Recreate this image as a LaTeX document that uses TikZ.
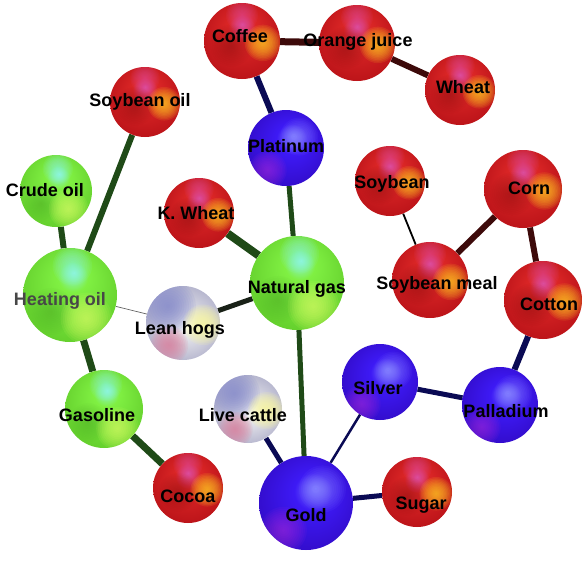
\documentclass[tikz,border=0pt]{standalone}
\usepackage{fontspec}
\setmainfont{Liberation Sans}
\usetikzlibrary{calc,backgrounds}

% sphere palettes
\definecolor{redhl}{rgb}{0.86,0.30,0.62}
\definecolor{redmid}{rgb}{0.86,0.15,0.15}
\definecolor{redrim}{rgb}{0.74,0.08,0.10}
\definecolor{redspot}{rgb}{1.00,0.78,0.12}
\definecolor{reddark}{rgb}{0.50,0.04,0.10}
\definecolor{grnhl}{rgb}{0.55,0.96,0.88}
\definecolor{grnmid}{rgb}{0.50,0.94,0.26}
\definecolor{grnrim}{rgb}{0.40,0.82,0.18}
\definecolor{grnspot}{rgb}{0.85,1.00,0.40}
\definecolor{grndark}{rgb}{0.28,0.62,0.14}
\definecolor{bluhl}{rgb}{0.50,0.50,1.00}
\definecolor{blumid}{rgb}{0.24,0.10,0.96}
\definecolor{blurim}{rgb}{0.20,0.05,0.80}
\definecolor{bluspot}{rgb}{0.55,0.52,1.00}
\definecolor{bluviolet}{rgb}{0.62,0.16,0.86}
\definecolor{silmid}{rgb}{0.90,0.90,0.92}
\definecolor{silrim}{rgb}{0.70,0.70,0.80}
\definecolor{silblue}{rgb}{0.52,0.54,0.80}
\definecolor{silyel}{rgb}{0.99,0.98,0.62}
\definecolor{silpink}{rgb}{0.86,0.50,0.62}
% connector colours
\definecolor{lnkgreen}{rgb}{0.12,0.29,0.09}
\definecolor{lnknavy}{rgb}{0.04,0.04,0.33}
\definecolor{lnkmaroon}{rgb}{0.24,0.04,0.04}
\definecolor{lnkdark}{rgb}{0.10,0.13,0.09}

\pgfdeclareradialshading{redbase}{\pgfpoint{0bp}{11bp}}{color(0bp)=(redhl); color(9bp)=(redmid); color(28bp)=(redrim); color(40bp)=(redrim)}
\pgfdeclareradialshading{grnbase}{\pgfpoint{2bp}{12bp}}{color(0bp)=(grnhl); color(8bp)=(grnmid); color(28bp)=(grnrim); color(40bp)=(grnrim)}
\pgfdeclareradialshading{blubase}{\pgfpoint{5bp}{8bp}}{color(0bp)=(bluhl); color(10bp)=(blumid); color(28bp)=(blurim); color(40bp)=(blurim)}
\pgfdeclareradialshading{silbase}{\pgfpoint{3bp}{-2bp}}{color(0bp)=(white); color(7bp)=(silmid); color(27bp)=(silrim); color(40bp)=(silrim)}

% soft coloured glow inside a sphere: colour, dx, dy, radius, opacity per layer
\newcommand\ballglow[5]{%
  \foreach \k in {1,...,12}{%
    \fill[#1, fill opacity=#5] ($(path picture bounding box.center)+(#2,#3)$) circle ({#4*\k/12});}}

\tikzset{
  sphere/.style={circle, inner sep=0pt, minimum size=2*#1},
  redball/.style={sphere=#1, shading=redbase, path picture={
      \ballglow{reddark}{-0.28*#1}{-0.12*#1}{0.55*#1}{0.04}
      \ballglow{redspot}{0.55*#1}{-0.05*#1}{0.48*#1}{0.12}
      \ballglow{redhl}{0.0*#1}{0.68*#1}{0.42*#1}{0.08}
  }},
  grnball/.style={sphere=#1, shading=grnbase, path picture={
      \ballglow{grndark}{-0.40*#1}{-0.35*#1}{0.50*#1}{0.04}
      \ballglow{grnspot}{0.35*#1}{-0.50*#1}{0.55*#1}{0.10}
      \ballglow{grnhl}{0.05*#1}{0.62*#1}{0.42*#1}{0.09}
  }},
  bluball/.style={sphere=#1, shading=blubase, path picture={
      \ballglow{bluspot}{0.35*#1}{0.30*#1}{0.50*#1}{0.07}
      \ballglow{bluviolet}{-0.48*#1}{-0.58*#1}{0.50*#1}{0.09}
  }},
  silball/.style={sphere=#1, shading=silbase, path picture={
      \ballglow{silblue}{-0.40*#1}{0.45*#1}{0.75*#1}{0.13}
      \ballglow{silyel}{0.55*#1}{-0.05*#1}{0.55*#1}{0.14}
      \ballglow{silpink}{-0.38*#1}{-0.60*#1}{0.52*#1}{0.13}
  }},
  tag/.style={font=\fontsize{18}{20}\selectfont\bfseries, text=black, inner sep=0pt, text height=12.9pt, text depth=0pt},
  link/.style={line width=#1},
  green link/.style={link=#1, draw=lnkgreen},
  navy link/.style={link=#1, draw=lnknavy},
  maroon link/.style={link=#1, draw=lnkmaroon},
}

\begin{document}
\begin{tikzpicture}[x=1pt,y=1pt]
\useasboundingbox (0,-563) rectangle (583,0);

% spheres
\node[redball=38] (coffee)    at (242,-41)  {};
\node[redball=38] (oj)        at (357,-43)  {};
\node[redball=35] (wheat)     at (460,-90)  {};
\node[redball=35] (soyoil)    at (145,-102) {};
\node[bluball=38] (platinum)  at (286,-148) {};
\node[grnball=36] (crude)     at (56,-191)  {};
\node[redball=35] (kwheat)    at (199,-213) {};
\node[redball=35] (soybean)   at (390,-181) {};
\node[redball=39] (corn)      at (523,-189) {};
\node[redball=38] (soymeal)   at (430,-280) {};
\node[redball=39] (cotton)    at (543,-300) {};
\node[grnball=47] (heating)   at (70,-295)  {};
\node[grnball=47] (natgas)    at (297,-283) {};
\node[silball=37] (leanhogs)  at (183,-323) {};
\node[grnball=39] (gasoline)  at (104,-409) {};
\node[redball=35] (cocoa)     at (188,-488) {};
\node[silball=34] (livecattle) at (248,-409) {};
\node[bluball=47] (gold)      at (306,-503) {};
\node[bluball=38] (silver)    at (380,-382) {};
\node[bluball=38] (palladium) at (500,-405) {};
\node[redball=35] (sugar)     at (417,-492) {};

% connectors behind the spheres
\begin{scope}[on background layer]
  \draw[maroon link=7] (coffee) -- (oj);
  \draw[maroon link=6] (oj) -- (wheat);
  \draw[navy link=6] (coffee) -- (platinum);
  \draw[green link=5] (platinum) -- (natgas);
  \draw[green link=6] (soyoil) -- (heating);
  \draw[green link=6] (crude) -- (heating);
  \draw[green link=8] (kwheat) -- (natgas);
  \draw[link=5, draw=lnkdark] (natgas) -- (leanhogs);
  \draw[link=0.7, draw=black!60] (heating) -- (leanhogs);
  \draw[green link=7] (heating) -- (gasoline);
  \draw[green link=7] (gasoline) -- (cocoa);
  \draw[green link=5] (natgas) -- (gold);
  \draw[navy link=5] (livecattle) -- (gold);
  \draw[navy link=2.5] (gold) -- (silver);
  \draw[navy link=5] (gold) -- (sugar);
  \draw[navy link=5] (silver) -- (palladium);
  \draw[navy link=6] (palladium) -- (cotton);
  \draw[maroon link=6] (cotton) -- (corn);
  \draw[maroon link=6] (corn) -- (soymeal);
  \draw[link=1.8, draw=black] (soybean) -- (soymeal);
\end{scope}

% labels
\node[tag] (coffee-t)    at (240,-36)  {Coffee};
\node[tag] (oj-t)        at (358,-40)  {Orange juice};
\node[tag] (wheat-t)     at (463,-87)  {Wheat};
\node[tag] (soyoil-t)    at (140,-100) {Soybean oil};
\node[tag] (platinum-t)  at (286,-146) {Platinum};
\node[tag] (crude-t)     at (45,-190)  {Crude oil};
\node[tag] (kwheat-t)    at (196,-213) {K. Wheat};
\node[tag] (soybean-t)   at (392,-182) {Soybean};
\node[tag] (corn-t)      at (529,-188) {Corn};
\node[tag] (natgas-t)    at (297,-287) {Natural gas};
\node[tag] (soymeal-t)   at (437,-283) {Soybean meal};
\node[tag] (cotton-t)    at (549,-304) {Cotton};
\node[tag, text=black!72] (heating-t) at (60,-299) {Heating oil};
\node[tag] (leanhogs-t)  at (180,-328) {Lean hogs};
\node[tag] (gasoline-t)  at (97,-415)  {Gasoline};
\node[tag] (livecattle-t) at (243,-415) {Live cattle};
\node[tag] (silver-t)    at (378,-388) {Silver};
\node[tag] (palladium-t) at (506,-411) {Palladium};
\node[tag] (cocoa-t)     at (188,-496) {Cocoa};
\node[tag] (gold-t)      at (306,-515) {Gold};
\node[tag] (sugar-t)     at (421,-503) {Sugar};
\end{tikzpicture}
\end{document}
